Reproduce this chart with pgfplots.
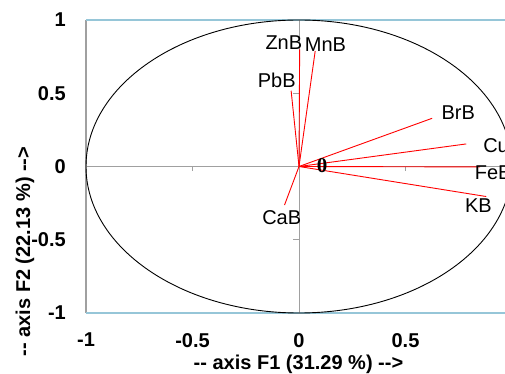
\documentclass[border=0pt]{standalone}
\usepackage{pgfplots}
\pgfplotsset{compat=1.18}
\usepackage{fontspec}
\setmainfont{Liberation Sans}
\newfontfamily\serifb{Liberation Serif}
\definecolor{axblue}{HTML}{96C6D8}
\definecolor{axgray}{HTML}{A0A0A0}
\tikzset{lbl/.style={font=\fontsize{20}{24}\selectfont, inner sep=0pt, text=black}}
\begin{document}
\begin{tikzpicture}
\useasboundingbox (0,0) rectangle (505pt,374pt);
\begin{axis}[at={(86pt,61pt)}, anchor=south west, scale only axis,
  width=426pt, height=293pt,
  xmin=-1, xmax=1, ymin=-1, ymax=1,
  axis line style={draw=none}, major tick length=0pt, tick style={draw=none},
  xtick={-1,-0.5,0,0.5}, xticklabels={-1,-0.5,0,0.5},
  ytick={-1,-0.5,0,0.5,1}, yticklabels={-1,-0.5,0,0.5,1},
  ticklabel style={font=\fontsize{20}{24}\selectfont\bfseries, inner sep=0pt},
  xticklabel style={anchor=north, yshift=-20pt},
  yticklabel style={anchor=east, xshift=-20pt},
  clip=false]
% frame
\draw[axgray, line width=1.2pt] (axis cs:-1,-1) -- (axis cs:-1,1);
\draw[axblue, line width=2.5pt] (axis cs:-1,1) -- (axis cs:1,1);
\draw[axblue, line width=2.5pt] (axis cs:-1,-1) -- (axis cs:1,-1);
% zero lines and ticks
\draw[axgray, line width=1pt] (axis cs:-1,0) -- (axis cs:1,0);
\draw[axgray, line width=1pt] (axis cs:0,-1) -- (axis cs:0,1);
\draw[axgray, line width=1pt] (axis cs:-0.5,0) -- ([yshift=-5pt]axis cs:-0.5,0);
\draw[axgray, line width=1pt] (axis cs:0.5,0) -- ([yshift=-5pt]axis cs:0.5,0);
\draw[axgray, line width=1pt] (axis cs:0,0.5) -- ([xshift=-6pt]axis cs:0,0.5);
\draw[axgray, line width=1pt] (axis cs:0,-0.5) -- ([xshift=-6pt]axis cs:0,-0.5);
% correlation circle
\draw[black, line width=0.9pt] (axis cs:0,0) ellipse [x radius=1, y radius=1];
% vectors
\addplot[red, line width=0.9pt] coordinates {(0,0) (0.003,0.80)} node[lbl, pos=1, anchor=base east, xshift=3pt] {ZnB};
\addplot[red, line width=0.9pt] coordinates {(0,0) (0.076,0.788)} node[lbl, pos=1, anchor=base west, xshift=-10.7pt] {MnB};
\addplot[red, line width=0.9pt] coordinates {(0,0) (-0.037,0.517)} node[lbl, pos=1, anchor=base east, xshift=5pt, yshift=3.4pt] {PbB};
\addplot[red, line width=0.9pt] coordinates {(0,0) (0.625,0.329)} node[lbl, pos=1, anchor=base west, xshift=9pt, yshift=-1.4pt] {BrB};
\addplot[red, line width=0.9pt] coordinates {(0,0) (0.785,0.154)} node[lbl, pos=1, anchor=base west, xshift=16.6pt, yshift=-8.3pt] {CuB};
\addplot[red, line width=0.9pt] coordinates {(0,0) (0.85,-0.003)} node[lbl, pos=1, anchor=base west, xshift=-5.6pt, yshift=-12.7pt] {FeB};
\addplot[red, line width=0.9pt] coordinates {(0,0) (0.879,-0.205)} node[lbl, pos=1, anchor=base east, xshift=6pt, yshift=-15.8pt] {KB};
\addplot[red, line width=0.9pt] coordinates {(0,0) (-0.068,-0.263)} node[lbl, pos=1, anchor=base west, xshift=-22.7pt, yshift=-19.7pt] {CaB};
\node[inner sep=0pt, font=\fontsize{21}{24}\serifb\bfseries\selectfont] at (axis cs:0.109,0.005) {0};
\end{axis}
\node[rotate=90, anchor=base, inner sep=0pt, font=\fontsize{20}{24}\selectfont\bfseries] at (30pt,122.5pt) {-\kern0pt- axis F2 (22.13 \%) -\kern0pt->};
\node[anchor=base, inner sep=0pt, font=\fontsize{20}{24}\selectfont\bfseries] at (298.5pt,5pt) {-\kern0pt- axis F1 (31.29 \%) -\kern0pt->};
\end{tikzpicture}
\end{document}
